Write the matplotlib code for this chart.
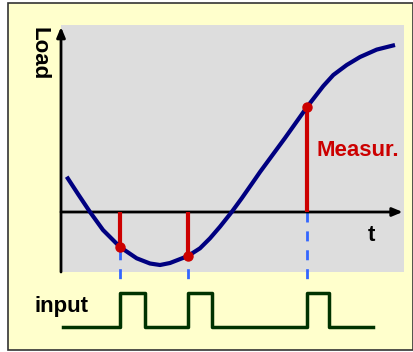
import matplotlib
matplotlib.use("Agg")
import matplotlib.pyplot as plt
from matplotlib.patches import Rectangle

# ---- data ----
curve_t = [0.167, 0.497, 0.848, 1.228, 1.725, 2.213, 2.602, 2.895, 3.187, 3.713,
           4.064, 4.357, 4.649, 4.991, 5.284, 5.623, 5.819, 6.550, 6.939, 7.193,
           7.670, 7.962, 8.354, 8.743, 9.231, 9.766]
curve_L = [1.765, 0.9, 0.0, -0.9, -1.75, -2.315, -2.575, -2.65, -2.55, -2.2,
           -1.815, -1.315, -0.735, 0.0, 0.685, 1.515, 2.0, 3.7, 4.635, 5.25,
           6.3, 6.85, 7.35, 7.75, 8.12, 8.35]
meas_t = [1.725, 3.713, 7.193]
meas_L = [-1.75, -2.2, 5.25]
pulse_on = [1.725, 3.713, 7.193]
pulse_off = [2.456, 4.415, 7.836]
input_start, input_end = 0.06, 9.123
dash_bottom = [-3.65, -3.65, -3.4]

W, H = 414, 352
fig = plt.figure(figsize=(W / 100, H / 100), dpi=100)
fig.patch.set_facecolor("white")

def fx(px):
    return px / W

def fy(py):
    return 1 - py / H

# yellow frame
fig.patches.append(Rectangle((fx(8), fy(350)), fx(413) - fx(8), fy(3) - fy(350),
                             transform=fig.transFigure, facecolor="#FFFFCC",
                             edgecolor="#333333", linewidth=1.2, zorder=-5))

# main axes (gray region)
ax = fig.add_axes([fx(61), fy(272), fx(404) - fx(61), fy(25) - fy(272)])
ax.set_zorder(2)
ax.set_facecolor("#DDDDDD")
ax.set_xlim(0, 343 / 34.2)
ax.set_ylim(-3.0, 9.35)
for s in ax.spines.values():
    s.set_visible(False)
ax.set_xticks([])
ax.set_yticks([])

# axes arrows
ax.annotate("", xy=(0, 9.25), xytext=(0, -3.0),
            arrowprops=dict(arrowstyle="-|>,head_length=0.6,head_width=0.25",
                            color="black", lw=2.0, shrinkA=0, shrinkB=0),
            annotation_clip=False)
ax.annotate("", xy=(9.99, 0), xytext=(0, 0),
            arrowprops=dict(arrowstyle="-|>,head_length=0.6,head_width=0.25",
                            color="black", lw=2.0, shrinkA=0, shrinkB=0),
            annotation_clip=False)

# dashed blue lines
for t, b in zip(meas_t, dash_bottom):
    ax.plot([t, t], [0, b], color="#3366FF", lw=2.0, dashes=(3.6, 3.2),
            clip_on=False, zorder=2)

# red measurement lines
for t, L in zip(meas_t, meas_L):
    ax.plot([t, t], [0, L], color="#CC0000", lw=3.0, zorder=3,
            solid_capstyle="butt")

# curve
ax.plot(curve_t, curve_L, color="#000080", lw=3.0, zorder=4,
        solid_joinstyle="round", solid_capstyle="butt")

# dots
ax.plot(meas_t, meas_L, "o", color="#CC0000", ms=6.5, zorder=5)

# pulse axes
pax = fig.add_axes([fx(61), fy(340), fx(404) - fx(61), fy(280) - fy(340)])
pax.set_zorder(1)
pax.set_xlim(0, 343 / 34.2)
pax.set_ylim(-13 / 34, 1 + 13 / 34)
pax.axis("off")
px_ = [input_start]
py_ = [0]
for on, off in zip(pulse_on, pulse_off):
    px_ += [on, on, off, off]
    py_ += [0, 1, 1, 0]
px_.append(input_end)
py_.append(0)
pax.plot(px_, py_, color="#003300", lw=2.5, solid_joinstyle="round")

bold = dict(fontfamily="Liberation Sans", fontweight="bold", fontsize=16)
fig.text(fx(39), fy(54), "Load", rotation=270, ha="center", va="center", **bold)
fig.text(fx(34), fy(312), "input", ha="left", va="baseline", **bold)
fig.text(fx(317), fy(156), "Measur.", ha="left", va="baseline", color="#CC0000",
         zorder=10, **bold)
fig.text(fx(371), fy(241), "t", ha="center", va="baseline", zorder=10, **bold)

fig.savefig("out.png", dpi=100)
